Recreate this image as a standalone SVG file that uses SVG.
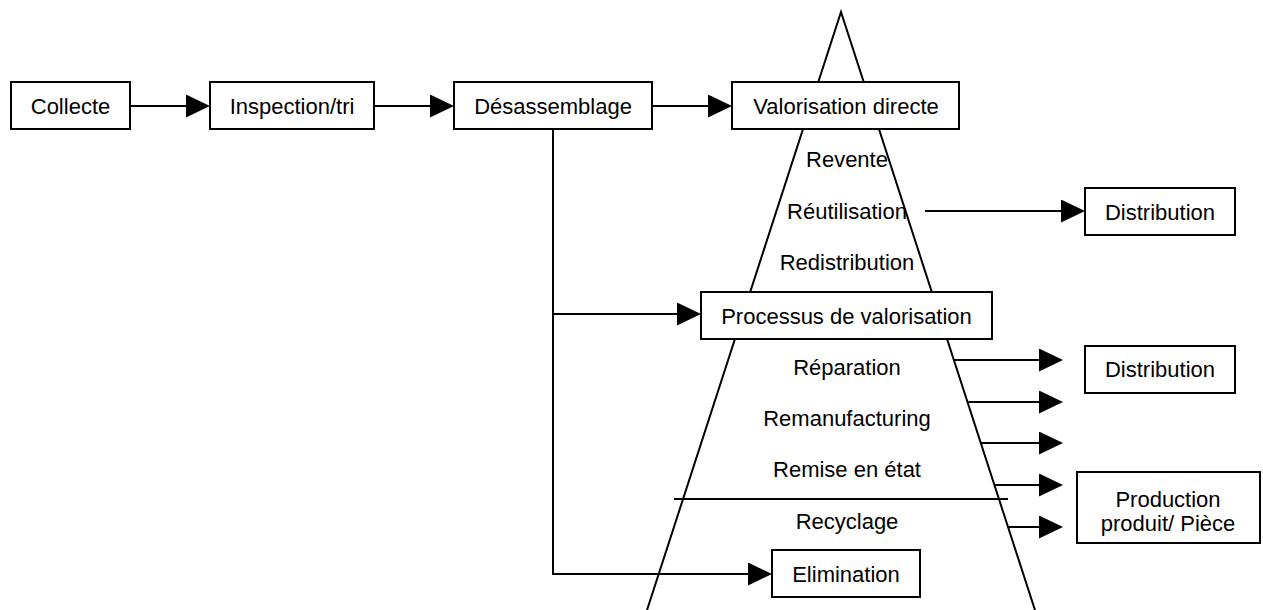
<svg xmlns="http://www.w3.org/2000/svg" width="1263" height="610" viewBox="0 0 1263 610">
<style>
.box{fill:#fff;stroke:#000;stroke-width:2}
.ln{fill:none;stroke:#000;stroke-width:2}
.t{font-family:"Liberation Sans",Arial,sans-serif;font-size:22px;fill:#000;text-anchor:middle}
</style>
<defs>
<marker id="ah" markerUnits="userSpaceOnUse" markerWidth="24" markerHeight="24" refX="20" refY="11.5" orient="auto">
<path d="M0,0 L24,11.5 L0,23 z" fill="#000"/>
</marker>
</defs>
<rect width="1263" height="610" fill="#fff"/>
<g id="pyramid">
<polyline class="ln" points="646.4,612 841,12 1035.6,612"/>
<line class="ln" x1="674" y1="499" x2="1008" y2="499"/>
</g>
<g id="connectors">
<line class="ln" x1="130" y1="106" x2="206" y2="106" marker-end="url(#ah)"/>
<line class="ln" x1="374" y1="106" x2="450" y2="106" marker-end="url(#ah)"/>
<line class="ln" x1="652" y1="106" x2="728" y2="106" marker-end="url(#ah)"/>
<line class="ln" x1="925" y1="211" x2="1081" y2="211" marker-end="url(#ah)"/>
<polyline class="ln" points="553,129 553,574 768,574" marker-end="url(#ah)"/>
<line class="ln" x1="553" y1="314" x2="697" y2="314" marker-end="url(#ah)"/>
<line class="ln" x1="953.8" y1="360" x2="1059" y2="360" marker-end="url(#ah)"/>
<line class="ln" x1="967.4" y1="402" x2="1059" y2="402" marker-end="url(#ah)"/>
<line class="ln" x1="980.6" y1="443" x2="1059" y2="443" marker-end="url(#ah)"/>
<line class="ln" x1="994.3" y1="485" x2="1059" y2="485" marker-end="url(#ah)"/>
<line class="ln" x1="1007.9" y1="527" x2="1059" y2="527" marker-end="url(#ah)"/>
</g>
<g id="collecte"><rect class="box" x="11" y="82" width="119" height="47"/><text class="t" x="70.5" y="114">Collecte</text></g>
<g id="inspection"><rect class="box" x="210" y="82" width="164" height="47"/><text class="t" x="292" y="114">Inspection/tri</text></g>
<g id="desassemblage"><rect class="box" x="454" y="82" width="198" height="47"/><text class="t" x="553" y="114">Désassemblage</text></g>
<g id="valorisation-directe"><rect class="box" x="732" y="82" width="227" height="47"/><text class="t" x="846" y="114">Valorisation directe</text></g>
<g id="labels-haut">
<text class="t" x="847" y="167">Revente</text>
<text class="t" x="847" y="219">Réutilisation</text>
<text class="t" x="847" y="270">Redistribution</text>
</g>
<g id="distribution1"><rect class="box" x="1085" y="188" width="150" height="47"/><text class="t" x="1160" y="220">Distribution</text></g>
<g id="processus"><rect class="box" x="701" y="292" width="291" height="47"/><text class="t" x="846.5" y="324">Processus de valorisation</text></g>
<g id="labels-bas">
<text class="t" x="847" y="375">Réparation</text>
<text class="t" x="847" y="426">Remanufacturing</text>
<text class="t" x="847" y="477">Remise en état</text>
<text class="t" x="847" y="529">Recyclage</text>
</g>
<g id="distribution2"><rect class="box" x="1085" y="346" width="150" height="47"/><text class="t" x="1160" y="377">Distribution</text></g>
<g id="production"><rect class="box" x="1077" y="472" width="183" height="71"/><text class="t" x="1168" y="507">Production</text><text class="t" x="1168" y="531">produit/ Pièce</text></g>
<g id="elimination"><rect class="box" x="772" y="550" width="148" height="47"/><text class="t" x="846" y="582">Elimination</text></g>
</svg>
